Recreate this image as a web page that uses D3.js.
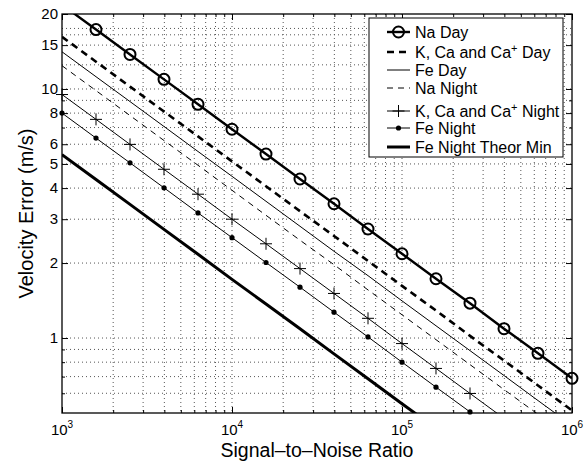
<!DOCTYPE html>
<html>
<head>
<meta charset="utf-8">
<script src="https://cdn.jsdelivr.net/npm/d3@7"></script>
<style>
body { margin: 0; background: #fff; }
text { font-family: "Liberation Sans", Arial, Helvetica, sans-serif; fill: #000; }
</style>
</head>
<body>
<svg id="chart" width="588" height="464"></svg>
<script>
// SNR sample points (every 0.2 decade)
var snr = [1000, 1585, 2512, 3981, 6310, 10000, 15849, 25119, 39811, 63096,
           100000, 158489, 251189, 398107, 630957, 1000000];

// velocity error (m/s)
var naDay      = [21.8, 17.32, 13.76, 10.93, 8.68, 6.89, 5.48, 4.35, 3.46, 2.74, 2.18, 1.73, 1.38, 1.09, 0.868, 0.689];
var kDay       = [16.2, 12.87, 10.22, 8.12, 6.45, 5.12, 4.07, 3.23, 2.57, 2.04, 1.62, 1.29, 1.02, 0.812, 0.645, 0.512];
var feDay      = [14.1, 11.2, 8.90, 7.07, 5.61, 4.46, 3.54, 2.81, 2.23, 1.78, 1.41, 1.12, 0.890, 0.707, 0.561, 0.446];
var naNight    = [12.4, 9.85, 7.82, 6.21, 4.94, 3.92, 3.11, 2.47, 1.97, 1.56, 1.24, 0.985, 0.782, 0.621, 0.494, 0.392];
var kNight     = [9.5, 7.55, 5.99, 4.76, 3.78, 3.00, 2.39, 1.90, 1.51, 1.20, 0.95, 0.755, 0.599, 0.476, 0.378, 0.300];
var feNight    = [8.0, 6.35, 5.05, 4.01, 3.18, 2.53, 2.01, 1.60, 1.27, 1.01, 0.80, 0.635, 0.505, 0.401, 0.318, 0.253];
var feTheorMin = [5.45, 4.33, 3.44, 2.73, 2.17, 1.72, 1.37, 1.09, 0.864, 0.686, 0.545, 0.433, 0.344, 0.273, 0.217, 0.172];

var xTicks = [1e3, 1e4, 1e5, 1e6];
var xTickExp = ["3", "4", "5", "6"];
var yTicks = [1, 2, 3, 4, 5, 6, 8, 10, 15, 20];

var series = [
  { name: "Na Day", values: naDay, width: 2.4, dash: null, marker: "circle" },
  { name: "K, Ca and Ca", sup: "+", after: " Day", values: kDay, width: 2.6, dash: "7,5", marker: null },
  { name: "Fe Day", values: feDay, width: 1, dash: null, marker: null },
  { name: "Na Night", values: naNight, width: 1, dash: "6,5", marker: null },
  { name: "K, Ca and Ca", sup: "+", after: " Night", values: kNight, width: 1, dash: null, marker: "plus" },
  { name: "Fe Night", values: feNight, width: 1, dash: null, marker: "dot" },
  { name: "Fe Night Theor Min", values: feTheorMin, width: 3, dash: null, marker: null }
];

var margin = { top: 14, right: 16, bottom: 51, left: 62 },
    width = 588 - margin.left - margin.right,
    height = 464 - margin.top - margin.bottom;

var svg = d3.select("#chart");
var g = svg.append("g")
    .attr("transform", "translate(" + margin.left + "," + margin.top + ")");

var x = d3.scaleLog().domain([1e3, 1e6]).range([0, width]);
var y = d3.scaleLog().domain([0.5, 20]).range([height, 0]);

// minor values for grid / ticks
var xMinor = [];
[1e3, 1e4, 1e5].forEach(function(d) {
  for (var k = 2; k <= 9; k++) xMinor.push(d * k);
});
var yMinor = [0.6, 0.7, 0.8, 0.9, 7, 9];
var yGrid = [0.6, 0.7, 0.8, 0.9, 1, 2, 3, 4, 5, 6, 7, 8, 9, 10, 12.5, 15, 16.5, 17.5];

// grid
g.append("g").selectAll("line")
    .data(xMinor.concat([1e4, 1e5]))
  .enter().append("line")
    .attr("x1", function(d) { return x(d); })
    .attr("x2", function(d) { return x(d); })
    .attr("y1", 0).attr("y2", height)
    .attr("stroke", "#555").attr("stroke-width", 1)
    .attr("stroke-dasharray", "1,3");

g.append("g").selectAll("line")
    .data(yGrid)
  .enter().append("line")
    .attr("x1", 0).attr("x2", width)
    .attr("y1", function(d) { return y(d); })
    .attr("y2", function(d) { return y(d); })
    .attr("stroke", "#555").attr("stroke-width", 1)
    .attr("stroke-dasharray", "1,3");

// ticks on all four sides, pointing inward
function tickAxis(axis, vals, size, tx, ty) {
  var a = g.append("g")
      .attr("transform", "translate(" + tx + "," + ty + ")")
      .call(axis.tickValues(vals).tickSize(size).tickFormat(""));
  a.select(".domain").remove();
  a.selectAll("line").attr("stroke", "#000").attr("stroke-width", 1);
}
tickAxis(d3.axisBottom(x), xTicks, -6, 0, height);
tickAxis(d3.axisBottom(x), xMinor, -3, 0, height);
tickAxis(d3.axisTop(x), xTicks, -6, 0, 0);
tickAxis(d3.axisTop(x), xMinor, -3, 0, 0);
tickAxis(d3.axisLeft(y), yTicks, -6, 0, 0);
tickAxis(d3.axisLeft(y), yMinor, -3, 0, 0);
tickAxis(d3.axisRight(y), yTicks, -6, width, 0);
tickAxis(d3.axisRight(y), yMinor, -3, width, 0);

// box
g.append("rect")
    .attr("width", width).attr("height", height)
    .attr("fill", "none").attr("stroke", "#000").attr("stroke-width", 1.3);

// tick labels
g.append("g").selectAll("text")
    .data(yTicks)
  .enter().append("text")
    .attr("x", -4)
    .attr("y", function(d) { return y(d); })
    .attr("dy", "0.35em")
    .attr("text-anchor", "end")
    .style("font-size", "15px")
    .text(function(d) { return d; });

var xl = g.append("g").selectAll("text")
    .data(xTicks)
  .enter().append("text")
    .attr("x", function(d) { return x(d); })
    .attr("y", height + 22)
    .attr("text-anchor", "middle")
    .style("font-size", "15px");
xl.append("tspan").text("10");
xl.append("tspan")
    .attr("dy", -7)
    .style("font-size", "10px")
    .text(function(d, i) { return xTickExp[i]; });

// axis titles
g.append("text")
    .attr("x", width / 2)
    .attr("y", height + 44)
    .attr("text-anchor", "middle")
    .style("font-size", "19.5px")
    .text("Signal\u2013to\u2013Noise Ratio");

g.append("text")
    .attr("transform", "translate(" + (-29) + "," + (height / 2) + ") rotate(-90)")
    .attr("text-anchor", "middle")
    .style("font-size", "20px")
    .text("Velocity Error (m/s)");

// lines
svg.append("clipPath").attr("id", "plotClip")
  .append("rect").attr("width", width).attr("height", height);

var line = d3.line()
    .x(function(d) { return x(d[0]); })
    .y(function(d) { return y(d[1]); });

var plot = g.append("g").attr("clip-path", "url(#plotClip)");

series.forEach(function(s) {
  var pts = snr.map(function(v, i) { return [v, s.values[i]]; });
  plot.append("path")
      .datum(pts)
      .attr("fill", "none")
      .attr("stroke", "#000")
      .attr("stroke-width", s.width)
      .attr("stroke-dasharray", s.dash)
      .attr("d", line);
});

function drawMarker(sel, type, cx, cy) {
  if (type === "circle") {
    sel.append("circle").attr("cx", cx).attr("cy", cy).attr("r", 5.5)
        .attr("fill", "none").attr("stroke", "#000").attr("stroke-width", 2);
  } else if (type === "plus") {
    sel.append("path")
        .attr("d", "M" + (cx - 6) + "," + cy + "H" + (cx + 6) + "M" + cx + "," + (cy - 6) + "V" + (cy + 6))
        .attr("stroke", "#000").attr("stroke-width", 1);
  } else if (type === "dot") {
    sel.append("circle").attr("cx", cx).attr("cy", cy).attr("r", 2.6).attr("fill", "#000");
  }
}

var markers = g.append("g");
series.forEach(function(s) {
  if (!s.marker) return;
  snr.forEach(function(v, i) {
    var val = s.values[i];
    if (val < 0.5 || val > 20) return;
    drawMarker(markers, s.marker, x(v), y(val));
  });
});

// legend
var lg = svg.append("g").attr("transform", "translate(369,18)");
lg.append("rect")
    .attr("width", 194).attr("height", 139)
    .attr("fill", "#fff").attr("stroke", "#000").attr("stroke-width", 1);

var rowY = [14, 34, 52, 70, 93, 110, 129];
series.forEach(function(s, i) {
  var ry = rowY[i];
  lg.append("line")
      .attr("x1", 18).attr("x2", 41)
      .attr("y1", ry).attr("y2", ry)
      .attr("stroke", "#000")
      .attr("stroke-width", s.width)
      .attr("stroke-dasharray", s.dash);
  if (s.marker) drawMarker(lg, s.marker, 29.5, ry);
  var t = lg.append("text")
      .attr("x", 46).attr("y", ry)
      .attr("dy", "0.36em")
      .style("font-size", "16px");
  t.append("tspan").text(s.name);
  if (s.sup) {
    t.append("tspan").attr("dy", -6).style("font-size", "11px").text(s.sup);
    t.append("tspan").attr("dy", 6).text(s.after);
  }
});
</script>
</body>
</html>
